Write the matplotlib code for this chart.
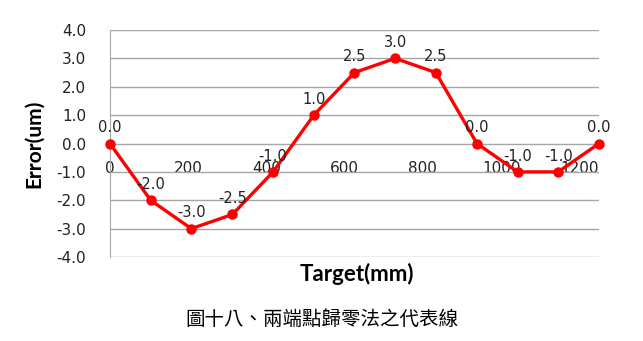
import matplotlib
matplotlib.use("Agg")
import matplotlib.pyplot as plt

# Target positions (mm) and measured error (um)
target = [0, 104, 208, 313, 417, 521, 625, 729, 833, 938, 1042, 1146, 1250]
error = [0.0, -2.0, -3.0, -2.5, -1.0, 1.0, 2.5, 3.0, 2.5, 0.0, -1.0, -1.0, 0.0]
xticks = [0, 200, 400, 600, 800, 1000, 1200]
yticks = [-4, -3, -2, -1, 0, 1, 2, 3, 4]
caption = "圖十八、兩端點歸零法之代表線"

fig = plt.figure(figsize=(6.43, 3.41), dpi=100)
ax = fig.add_axes([0.171, 0.2463, 0.7605, 0.6657])

ax.plot(target, error, color="#ff0000", lw=2.4, marker="o", ms=6.5, zorder=3, clip_on=False)
for x, y in zip(target, error):
    ax.annotate("%.1f" % y, (x, y), xytext=(0, 6), textcoords="offset points",
                ha="center", va="bottom", fontsize=10.5, color="#222222")

ax.set_xlim(0, 1250)
ax.set_ylim(-4, 4)
ax.set_yticks(yticks)
ax.set_yticklabels(["%.1f" % v for v in yticks])
ax.set_xticks(xticks)
ax.set_xticklabels([str(v) for v in xticks])
ax.grid(axis="y", color="#a6a6a6", lw=1)
ax.set_axisbelow(True)

for s in ["top", "right"]:
    ax.spines[s].set_visible(False)
ax.spines["left"].set_color("#a6a6a6")
ax.spines["bottom"].set_position(("data", 0))
ax.spines["bottom"].set_visible(False)
ax.tick_params(axis="y", length=0, pad=17, colors="#222222", labelsize=11)
ax.tick_params(axis="x", length=0, pad=12.5, colors="#222222", labelsize=11)

fig.text(0.053, 0.579, "Error(um)", rotation=90, ha="center", va="center",
         fontsize=15, fontweight="bold", family="Lato")
fig.text(0.555, 0.197, "Target(mm)", ha="center", va="center",
         fontsize=16, fontweight="bold", family="Lato")
fig.text(0.50, 0.062, caption, ha="center", va="center", fontsize=14,
         family=["Noto Sans CJK TC", "DejaVu Sans"])

fig.savefig("out.png", dpi=100)
